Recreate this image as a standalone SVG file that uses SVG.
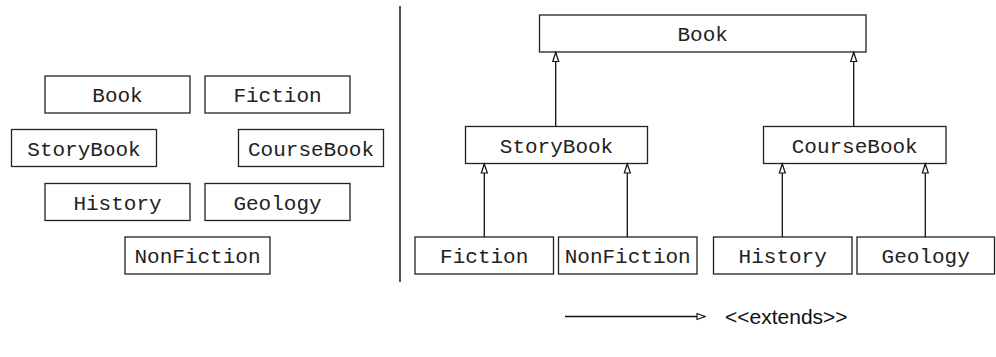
<svg xmlns="http://www.w3.org/2000/svg" width="996" height="357" viewBox="0 0 996 357">
<style>
.box rect{fill:#fff;stroke:#222;stroke-width:1.3}
.box text{font-family:"Liberation Mono","Courier New",monospace;font-size:21px;fill:#222;text-anchor:middle}
.con line{stroke:#111;stroke-width:1.3;fill:none}
.legend text{font-family:"Liberation Sans",Arial,sans-serif;font-size:21px;fill:#111}
</style>
<defs>
<marker id="tri" viewBox="0 0 9 6" refX="9" refY="3" markerWidth="9" markerHeight="6" markerUnits="userSpaceOnUse" orient="auto" overflow="visible">
<path d="M0,0 L9,3 L0,6 Z" fill="#fff" stroke="#111" stroke-width="1.2"/>
</marker>
<marker id="tri2" viewBox="0 0 8 6" refX="8" refY="3" markerWidth="8" markerHeight="6" markerUnits="userSpaceOnUse" orient="auto" overflow="visible">
<path d="M0,0 L8,3 L0,6 Z" fill="#fff" stroke="#111" stroke-width="1.1"/>
</marker>
</defs>
<rect width="996" height="357" fill="#fff"/>

<!-- left: unordered classes -->
<g id="l-book" class="box"><rect x="45" y="76" width="145" height="37"/><text x="117.5" y="102">Book</text></g>
<g id="l-fiction" class="box"><rect x="205" y="76" width="145" height="37"/><text x="277.5" y="102">Fiction</text></g>
<g id="l-storybook" class="box"><rect x="11.5" y="129.5" width="145" height="37"/><text x="84" y="155.5">StoryBook</text></g>
<g id="l-coursebook" class="box"><rect x="238.5" y="129.5" width="145" height="37"/><text x="311" y="155.5">CourseBook</text></g>
<g id="l-history" class="box"><rect x="45" y="183.5" width="145" height="37"/><text x="117.5" y="209.5">History</text></g>
<g id="l-geology" class="box"><rect x="205" y="183.5" width="145" height="37"/><text x="277.5" y="209.5">Geology</text></g>
<g id="l-nonfiction" class="box"><rect x="125" y="237" width="145" height="37"/><text x="197.5" y="263">NonFiction</text></g>

<!-- divider -->
<line x1="400" y1="6" x2="400" y2="282" stroke="#555" stroke-width="2"/>

<!-- right: hierarchy -->
<g id="r-book" class="box"><rect x="539.5" y="15" width="326.5" height="37"/><text x="702.7" y="41">Book</text></g>
<g id="r-storybook" class="box"><rect x="465.5" y="126.5" width="182" height="37"/><text x="556.5" y="152.5">StoryBook</text></g>
<g id="r-coursebook" class="box"><rect x="763.5" y="126.5" width="182.5" height="37"/><text x="854.7" y="152.5">CourseBook</text></g>
<g id="r-fiction" class="box"><rect x="415" y="237" width="138.5" height="37"/><text x="484.2" y="263">Fiction</text></g>
<g id="r-nonfiction" class="box"><rect x="558.5" y="237" width="138.5" height="37"/><text x="627.7" y="263">NonFiction</text></g>
<g id="r-history" class="box"><rect x="713.5" y="237" width="138.5" height="37"/><text x="782.7" y="263">History</text></g>
<g id="r-geology" class="box"><rect x="857" y="237" width="137.5" height="37"/><text x="925.7" y="263">Geology</text></g>

<g id="connectors" class="con">
<line x1="555.7" y1="126.5" x2="555.7" y2="52.5" marker-end="url(#tri)"/>
<line x1="853.7" y1="126.5" x2="853.7" y2="52.5" marker-end="url(#tri)"/>
<line x1="484.3" y1="237" x2="484.3" y2="164" marker-end="url(#tri)"/>
<line x1="627.3" y1="237" x2="627.3" y2="164" marker-end="url(#tri)"/>
<line x1="782.3" y1="237" x2="782.3" y2="164" marker-end="url(#tri)"/>
<line x1="925.3" y1="237" x2="925.3" y2="164" marker-end="url(#tri)"/>
</g>

<g id="legend" class="legend">
<line x1="565" y1="316.5" x2="705" y2="316.5" stroke="#111" stroke-width="1.3" marker-end="url(#tri2)"/>
<text x="725" y="323.5">&lt;&lt;extends&gt;&gt;</text>
</g>
</svg>
